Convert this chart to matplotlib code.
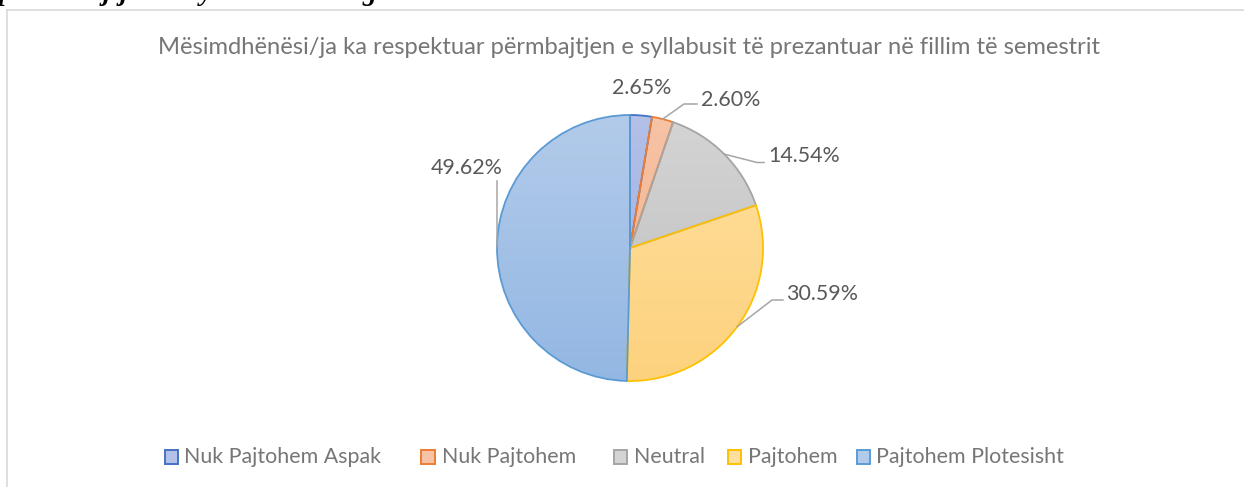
import numpy as np
import matplotlib
matplotlib.use("Agg")
import matplotlib.pyplot as plt
from matplotlib.colors import LinearSegmentedColormap
from matplotlib.patches import Rectangle
from matplotlib.lines import Line2D

# ---------------- data ----------------
title = "Mësimdhënësi/ja ka respektuar përmbajtjen e syllabusit të prezantuar në fillim të semestrit"
categories = ["Nuk Pajtohem Aspak", "Nuk Pajtohem", "Neutral", "Pajtohem", "Pajtohem Plotesisht"]
values = [2.65, 2.60, 14.54, 30.59, 49.62]
value_labels = ["2.65%", "2.60%", "14.54%", "30.59%", "49.62%"]

# ---------------- style ----------------
edge_colors = ["#4472C4", "#ED7D31", "#A5A5A5", "#FFC000", "#5B9BD5"]
top_colors = ["#B3C0E8", "#F7C3A6", "#D4D4D4", "#FFDF9E", "#B3CBEA"]
bot_colors = ["#9AAEE0", "#F3AE86", "#BEBEBE", "#FDD27E", "#93B7E3"]
plt.rcParams['font.family'] = ['Lato', 'DejaVu Sans']

W, H = 1244, 487
fig = plt.figure(figsize=(W / 100, H / 100), dpi=100)

def fx(px):
    return px / W

def fy(py):
    return 1 - py / H

# clipped heading fragment from the document above the chart
for txt, px in [("p", -1), ("j", 103), ("j", 120), ("y", 200), ("g", 363)]:
    fig.text(fx(px), fy(0), txt, fontsize=20, fontweight='bold', fontstyle='italic',
             family='Liberation Serif', va='baseline', ha='left', color='black')

# chart frame
frame_col = "#D9D9D9"
fig.add_artist(Line2D([fx(7.5), fx(7.5)], [fy(9.5), fy(H + 5)], color=frame_col, lw=1.2,
                      transform=fig.transFigure))
fig.add_artist(Line2D([fx(7.5), fx(W + 5)], [fy(9.5), fy(9.5)], color=frame_col, lw=1.2,
                      transform=fig.transFigure))

# title
fig.text(fx(629), fy(47), title, ha='center', va='center', color='#767676', fontsize=17.1)

# pie axes (pixel-exact square)
cx, cy, R = 630, 248, 133
ax = fig.add_axes([fx(cx - R), fy(cy + R), 2 * R / W, 2 * R / H])
wedges, _ = ax.pie(values, startangle=90, counterclock=False, radius=1,
                   colors=["none"] * 5,
                   wedgeprops=dict(linewidth=1.3))
grad = np.linspace(0, 1, 256).reshape(-1, 1)
for w, ec, ct, cb in zip(wedges, edge_colors, top_colors, bot_colors):
    w.set_edgecolor(ec)
    w.set_facecolor("none")
    w.set_zorder(3)
    cmap = LinearSegmentedColormap.from_list("g", [ct, cb])
    im = ax.imshow(grad, extent=[-1, 1, -1, 1], cmap=cmap, aspect='auto',
                   origin='upper', zorder=2, interpolation='bilinear')
    im.set_clip_path(w)
ax.set_xlim(-1, 1)
ax.set_ylim(-1, 1)
ax.axis('off')

def d(px, py):
    return ((px - cx) / R, (cy - py) / R)

# data labels
label_pos = [(642, 88), (731, 100), (804, 156), (822, 294), (467, 168)]
# leader line elbow points (pixels), empty = no leader
leaders = [[], [(684, 104), (697, 104)], [(757, 162.5), (764, 162.5)],
           [(772, 300), (783, 300)], [(497, 181)]]

cum = np.cumsum([0] + values)
for i, (lab, pos) in enumerate(zip(value_labels, label_pos)):
    x, y = d(*pos)
    ax.text(x, y, lab, ha='center', va='center', color='#595959', fontsize=15.4,
            clip_on=False)
    if leaders[i]:
        mid = np.deg2rad(90 - 3.6 * (cum[i] + cum[i + 1]) / 2)
        xs = [np.cos(mid)] + [d(*p)[0] for p in leaders[i]]
        ys = [np.sin(mid)] + [d(*p)[1] for p in leaders[i]]
        ax.plot(xs, ys, color='#A6A6A6', lw=1.1, clip_on=False, zorder=4)

# legend (entries placed at the reference positions)
leg_marker_x = [164.5, 421.5, 613.5, 727.5, 856.5]
leg_y = 457
msz = 13.5
for mx, lab, ct, ec in zip(leg_marker_x, categories, top_colors, edge_colors):
    fig.add_artist(Rectangle((fx(mx), fy(leg_y + msz / 2)), msz / W, msz / H,
                             facecolor=ct, edgecolor=ec, linewidth=1.4,
                             transform=fig.transFigure))
    fig.text(fx(mx + msz + 6.5), fy(leg_y), lab, ha='left', va='center',
             color='#767676', fontsize=15.4)

fig.savefig("out.png", dpi=100)
